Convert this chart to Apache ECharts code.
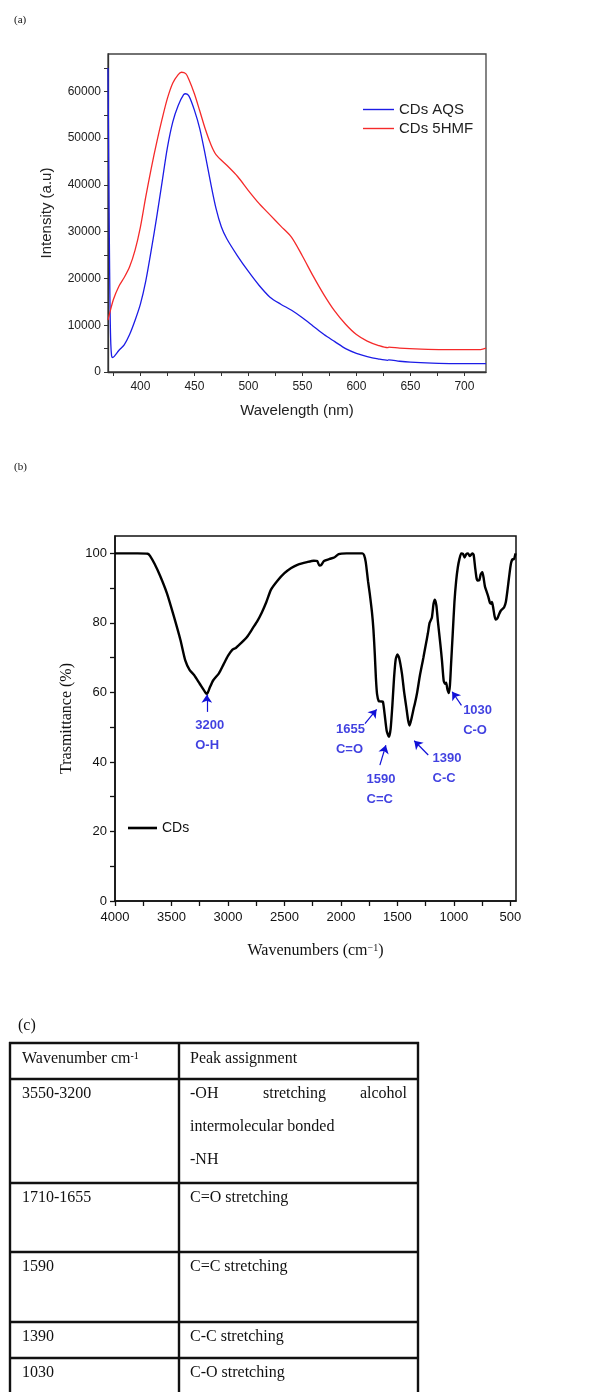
<!DOCTYPE html>
<html><head><meta charset="utf-8">
<script src="https://cdn.jsdelivr.net/npm/echarts@6/dist/echarts.min.js"></script>
<style>html,body{margin:0;padding:0;background:#fff}#c{width:590px;height:1392px}</style>
</head><body><div id="c"></div>
<script>
// ---------- (a) photoluminescence spectra ----------
const aqsWavelength = [370,370.5,371,371.5,372,372.6,373.3,374,376,380,385,390,395,400,405,410,415,420,425,430,435,440,442,445,450,455,460,465,470,475,480,490,500,510,520,530,540,550,560,570,580,590,600,610,620,629,630,640,650,670,690,720];
const aqsIntensity  = [65000,50000,35000,22000,12000,6000,3500,3100,3400,4600,5800,8000,11000,14500,19500,26000,33000,40500,48000,53500,57000,59300,59500,59000,56000,52000,46500,40500,35000,31000,28500,24800,21500,18500,16000,14500,13200,11600,9800,8000,6500,5000,4000,3300,2800,2500,2600,2300,2100,1900,1800,1800];
const hmfWavelength = [370,375,380,385,390,395,400,405,410,415,420,425,430,435,438,442,445,450,455,460,465,470,480,490,500,510,520,530,540,550,560,570,580,590,600,610,620,629,630,640,660,680,700,715,720];
const hmfIntensity  = [11100,15500,18300,20200,22500,26000,31000,37500,43500,49000,54000,58500,61800,63600,64100,63800,62500,59500,55800,52000,48800,46500,44200,41800,38800,36000,33600,31200,28800,24800,20500,16500,13000,10200,8000,6600,5700,5200,5300,5100,4900,4800,4800,4800,5100];
const plXLabels = [400,450,500,550,600,650,700];
const plXTicks  = [375,400,425,450,475,500,525,550,575,600,625,650,675,700];
const plYLabels = [0,10000,20000,30000,40000,50000,60000];
const plYTicks  = [0,5000,10000,15000,20000,25000,30000,35000,40000,45000,50000,55000,60000,65000];

// ---------- (b) FTIR spectrum ----------
const irWavenumber = [4000,3800,3710,3690,3650,3600,3540,3480,3420,3378,3340,3300,3250,3200,3185,3160,3130,3080,3040,3000,2960,2930,2880,2830,2780,2740,2700,2660,2620,2560,2500,2440,2380,2300,2240,2210,2190,2175,2150,2100,2060,2020,1950,1810,1795,1780,1760,1745,1725,1712,1700,1690,1680,1665,1645,1628,1612,1595,1575,1560,1545,1530,1515,1500,1485,1460,1440,1420,1405,1392,1375,1355,1345,1325,1300,1270,1250,1230,1215,1195,1180,1168,1155,1140,1120,1105,1090,1078,1068,1058,1045,1035,1025,1010,995,980,965,950,935,920,905,890,875,860,848,835,825,812,800,790,775,762,748,738,725,710,695,680,668,662,650,640,630,615,600,585,570,555,540,525,510,495,480,468,455];
const irTransmittance = [100,100,99.9,99.3,97,93.5,88.5,82,75,69.2,66.5,65,62.5,60,59.6,61.5,63.5,65.5,68,70.5,72.3,72.8,74.3,76,78.5,80.5,83,86,89.5,92.2,94.3,95.8,96.8,97.5,97.9,97.8,96.5,96.6,97.8,98.4,98.8,99.8,100,100,99.5,97.5,92,88.5,83,78,71,64,59.5,57.5,57.4,57.3,53.5,49,47.2,49.5,56,64,69.5,70.9,70,65.5,60,55.5,52,50.5,52.5,55.5,56.8,60,65,70,73.5,77,80,81.5,85.5,86.7,85,80,74,69,63.3,62.5,62.8,61,59.8,62,68,77,86,92,96,98.5,100,99.9,98.8,99.8,100,99.2,99.6,100,99.6,96,93,92.2,92.3,94,94.6,93.2,90.5,89,87.5,85.7,85.5,86,84,82,81,81.3,82.5,83.5,84,84.5,86,89.5,93.5,97,98.3,98.3,100];
const irXLabels = [4000,3500,3000,2500,2000,1500,1000,500];
const irXTicks  = [4000,3750,3500,3250,3000,2750,2500,2250,2000,1750,1500,1250,1000,750,500];
const irYLabels = [0,20,40,60,80,100];
const irYTicks  = [0,10,20,30,40,50,60,70,80,90,100];
// annotation text (label, group) and where the text block / arrow sit in data units
const peakNames  = ['3200','1655','1590','1390','1030'];
const peakGroups = ['O-H','C=O','C=C','C-C','C-O'];
const peakTextAt = [[3290,47.5],[2044,46.6],[1773,32.1],[1189,38],[918,52]];
const arrowFrom  = [[3187,54.4],[1787,51],[1655,39.1],[1227,42],[933,56.3]];
const arrowTo    = [[3187,59.3],[1684,55.1],[1602,44.8],[1351,46.1],[1015,60.2]];

// ---------- (c) table ----------
const tableHeader = ['Wavenumber cm', 'Peak assignment'];
const tableWavenumbers = ['3550-3200','1710-1655','1590','1390','1030'];
const tableAssignments = [['-OH stretching alcohol','intermolecular bonded','-NH'],['C=O stretching'],['C=C stretching'],['C-C stretching'],['C-O stretching']];

const zip = (xs, ys) => xs.slice(0, Math.min(xs.length, ys.length)).map((x, i) => [x, ys[i]]);

const SANS = 'Liberation Sans';
const SERIF = 'Liberation Serif';
const BLUE = '#1c1ce6';
const ANN = '#1010d8';

// table graphics
const colX = [10, 179, 418];
const rowY = [1043, 1079, 1183, 1252, 1322, 1358, 1398];
const LH = 33;
const graphics = [];
function hline(y){ graphics.push({type:'line', shape:{x1:colX[0]-1, y1:y, x2:colX[2]+1, y2:y}, style:{stroke:'#111', lineWidth:2.4}}); }
function vline(x){ graphics.push({type:'line', shape:{x1:x, y1:rowY[0]-1, x2:x, y2:rowY[rowY.length-1]}, style:{stroke:'#111', lineWidth:2.4}}); }
rowY.slice(0, rowY.length - 1).forEach(hline);
colX.forEach(vline);
function txt(s, x, y, align){ graphics.push({type:'text', x:x, y:y, style:{text:s, font:'16px "Liberation Serif"', fill:'#111', align:align||'left', verticalAlign:'middle'}}); }
// header
graphics.push({type:'text', x:colX[0]+12, y:rowY[0]+16, style:{text:'{a|'+tableHeader[0]+'}{s|-1}', verticalAlign:'middle', rich:{a:{fontFamily:SERIF, fontSize:16, fill:'#111', color:'#111', verticalAlign:'bottom'}, s:{fontFamily:SERIF, fontSize:10, color:'#111', verticalAlign:'top'}}}});
txt(tableHeader[1], colX[1]+11, rowY[0]+16);
tableWavenumbers.forEach((w, r) => {
  const y0 = rowY[r+1] + 15;
  txt(w, colX[0]+12, y0);
  tableAssignments[r].forEach((line, k) => {
    const y = y0 + k*LH;
    const words = line.split(' ');
    if (r === 0 && k === 0) {
      txt(words[0], colX[1]+11, y, 'left');
      txt(words[1], (colX[1]+11+colX[2]-11)/2 - 4, y, 'center');
      txt(words[2], colX[2]-11, y, 'right');
    } else {
      txt(line, colX[1]+11, y);
    }
  });
});

const chart = echarts.init(document.getElementById('c'), null, {renderer:'canvas'});
chart.setOption({
  animation: false,
  backgroundColor: '#fff',
  title: [
    {text:'(a)', left:9, top:10, textStyle:{fontFamily:SERIF, fontSize:11, fontWeight:'normal', color:'#111'}},
    {text:'(b)', left:9, top:457, textStyle:{fontFamily:SERIF, fontSize:11, fontWeight:'normal', color:'#111'}},
    {text:'(c)', left:13, top:1013, textStyle:{fontFamily:SERIF, fontSize:16, fontWeight:'normal', color:'#111'}}
  ],
  grid: [
    {left:108, top:54, width:378, height:318, show:true, borderColor:'#444', borderWidth:1.3, containLabel:false},
    {left:115, top:536, width:401, height:365, show:true, borderColor:'#111', borderWidth:1.5, containLabel:false}
  ],
  legend: [
    {data:['CDs AQS','CDs 5HMF'], orient:'vertical', left:358, top:97, icon:'rect', itemWidth:31, itemHeight:1.4, itemGap:4,
     textStyle:{fontFamily:SANS, fontSize:15, color:'#222'}, selectedMode:false},
    {data:['CDs'], orient:'vertical', left:123, top:816, icon:'rect', itemWidth:29, itemHeight:2.6,
     textStyle:{fontFamily:SANS, fontSize:14, color:'#111'}, selectedMode:false}
  ],
  xAxis: [
    {gridIndex:0, type:'value', min:370, max:720,
     name:'Wavelength (nm)', nameLocation:'middle', nameGap:31, nameTextStyle:{fontFamily:SANS, fontSize:15, color:'#222'},
     axisLine:{lineStyle:{color:'#333', width:1.3}}, splitLine:{show:false},
     axisTick:{show:true, inside:false, length:4, customValues:plXTicks, lineStyle:{color:'#333'}},
     axisLabel:{customValues:plXLabels, margin:9, fontFamily:SANS, fontSize:12, color:'#222', formatter:(v)=>String(v)}},
    {gridIndex:1, type:'value', min:450, max:4000, inverse:true,
     name:'{a|Wavenumbers (cm}{s|−1}{a|)}', nameLocation:'middle', nameGap:42,
     nameTextStyle:{rich:{a:{fontFamily:SERIF, fontSize:16, color:'#111', verticalAlign:'bottom'}, s:{fontFamily:SERIF, fontSize:10, color:'#111', verticalAlign:'top'}}},
     axisLine:{lineStyle:{color:'#111', width:1.5}}, splitLine:{show:false},
     axisTick:{show:true, inside:false, length:5, customValues:irXTicks, lineStyle:{color:'#111', width:1.3}},
     axisLabel:{customValues:irXLabels, margin:10, fontFamily:SANS, fontSize:13, color:'#111', formatter:(v)=>String(v)}}
  ],
  yAxis: [
    {gridIndex:0, type:'value', min:0, max:68000,
     name:'Intensity (a.u)', nameLocation:'middle', nameGap:54, nameTextStyle:{fontFamily:SANS, fontSize:15, color:'#222'},
     axisLine:{show:true, lineStyle:{color:'#333', width:1.3}}, splitLine:{show:false},
     axisTick:{show:true, inside:false, length:4, customValues:plYTicks, lineStyle:{color:'#333'}},
     axisLabel:{customValues:plYLabels, margin:7, fontFamily:SANS, fontSize:12, color:'#222', formatter:(v)=>String(v)}},
    {gridIndex:1, type:'value', min:0, max:105,
     name:'Trasmittance (%)', nameLocation:'middle', nameGap:40, nameTextStyle:{fontFamily:SERIF, fontSize:16, color:'#111'},
     axisLine:{show:true, lineStyle:{color:'#111', width:1.5}}, splitLine:{show:false},
     axisTick:{show:true, inside:false, length:5, customValues:irYTicks, lineStyle:{color:'#111', width:1.3}},
     axisLabel:{customValues:irYLabels, margin:8, fontFamily:SANS, fontSize:13, color:'#111', formatter:(v)=>String(v)}}
  ],
  series: [
    {name:'CDs AQS', type:'line', xAxisIndex:0, yAxisIndex:0, data:zip(aqsWavelength, aqsIntensity), symbol:'none', smooth:0.3,
     color:BLUE, lineStyle:{color:BLUE, width:1.3}},
    {name:'CDs 5HMF', type:'line', xAxisIndex:0, yAxisIndex:0, data:zip(hmfWavelength, hmfIntensity), symbol:'none', smooth:0.3,
     color:'#f52a2a', lineStyle:{color:'#f52a2a', width:1.3}},
    {name:'CDs', type:'line', xAxisIndex:1, yAxisIndex:1, data:zip(irWavenumber, irTransmittance), symbol:'none', smooth:0.2,
     color:'#000', lineStyle:{color:'#000', width:2.4}},
    {name:'peaks', type:'scatter', xAxisIndex:1, yAxisIndex:1, symbolSize:0, silent:true,
     data: peakNames.map((n, i) => ({name: n + '\n' + peakGroups[i], value: peakTextAt[i]})),
     label:{show:true, position:'inside', align:'left', verticalAlign:'middle', formatter:(p)=>p.name,
            fontFamily:SANS, fontSize:13, fontWeight:'bold', color:ANN, lineHeight:20},
     markLine:{silent:true, symbol:['none','arrow'], symbolSize:8, precision:4,
       lineStyle:{color:ANN, width:1.2, type:'solid'}, label:{show:false},
       data: arrowFrom.map((a, i) => [{coord:a}, {coord:arrowTo[i]}])}}
  ],
  graphic: graphics
});
</script></body></html>
